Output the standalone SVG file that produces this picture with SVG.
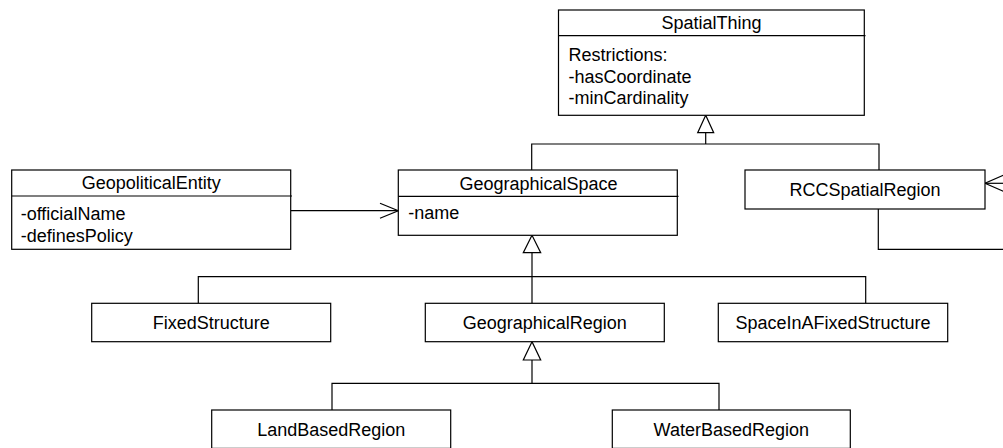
<svg xmlns="http://www.w3.org/2000/svg" width="1003" height="448" viewBox="0 0 1003 448">
<style>
.box{fill:#fff;stroke:#000;stroke-width:1.2}
.ln{fill:none;stroke:#000;stroke-width:1.2}
.tri{fill:#fff;stroke:#000;stroke-width:1.2}
text{font-family:"Liberation Sans",Arial,sans-serif;font-size:18px;fill:#000}
.c{text-anchor:middle}
</style>
<rect width="1003" height="448" fill="#fff"/>
<g id="connectors">
  <polyline class="ln" points="531.7,170 531.7,144 879,144 879,170"/>
  <line class="ln" x1="705.7" y1="132.7" x2="705.7" y2="144"/>
  <polygon class="tri" points="705.7,115.3 697.7,132.7 713.7,132.7"/>
  <polyline class="ln" points="198.3,303.3 198.3,276.7 865.7,276.7 865.7,303.3"/>
  <line class="ln" x1="532" y1="252.7" x2="532" y2="303.3"/>
  <polygon class="tri" points="532,235.3 523.3,252.7 540.7,252.7"/>
  <polyline class="ln" points="332,410 332,383.3 719,383.3 719,410"/>
  <line class="ln" x1="532" y1="360" x2="532" y2="383.3"/>
  <polygon class="tri" points="532,341.7 523.3,360 540.7,360"/>
  <line class="ln" x1="290.7" y1="210.7" x2="398.3" y2="210.7"/>
  <polyline class="ln" points="380,203.2 398.3,210.7 380,218.2"/>
  <polyline class="ln" points="878.3,209 878.3,249.3 1004,249.3"/>
  <line class="ln" x1="985" y1="183.3" x2="1004" y2="183.3"/>
  <polyline class="ln" points="1004,175 985,183.3 1004,191.6"/>
</g>
<g id="SpatialThing">
  <rect class="box" x="558.5" y="10" width="305.8" height="105.3"/>
  <line class="ln" x1="558.5" y1="35.7" x2="865.5" y2="35.7"/>
  <text class="c" x="711.5" y="29">SpatialThing</text>
  <text x="568.5" y="61">Restrictions:</text>
  <text x="568.5" y="82.7">-hasCoordinate</text>
  <text x="568.5" y="104.4">-minCardinality</text>
</g>
<g id="GeopoliticalEntity">
  <rect class="box" x="11.7" y="170" width="279" height="79.3"/>
  <line class="ln" x1="11.7" y1="196" x2="292" y2="196"/>
  <text class="c" x="151.2" y="189.3">GeopoliticalEntity</text>
  <text x="20.7" y="220">-officialName</text>
  <text x="20.7" y="241.7">-definesPolicy</text>
</g>
<g id="GeographicalSpace">
  <rect class="box" x="398.3" y="170" width="279" height="65.3"/>
  <line class="ln" x1="398.3" y1="196.3" x2="678.5" y2="196.3"/>
  <text class="c" x="538.5" y="189.5">GeographicalSpace</text>
  <text x="408.3" y="219.3">-name</text>
</g>
<g id="RCCSpatialRegion">
  <rect class="box" x="745" y="170" width="240" height="39"/>
  <text class="c" x="865" y="195.8">RCCSpatialRegion</text>
</g>
<g id="FixedStructure">
  <rect class="box" x="91.7" y="303.3" width="239" height="38.4"/>
  <text class="c" x="211.2" y="328.8">FixedStructure</text>
</g>
<g id="GeographicalRegion">
  <rect class="box" x="425.3" y="303.3" width="239" height="38.4"/>
  <text class="c" x="544.8" y="328.8">GeographicalRegion</text>
</g>
<g id="SpaceInAFixedStructure">
  <rect class="box" x="718.3" y="303.3" width="229.4" height="38.4"/>
  <text class="c" x="833" y="328.8">SpaceInAFixedStructure</text>
</g>
<g id="LandBasedRegion">
  <rect class="box" x="211.7" y="410" width="239" height="38.4"/>
  <text class="c" x="331.2" y="435.8">LandBasedRegion</text>
</g>
<g id="WaterBasedRegion">
  <rect class="box" x="612.3" y="410" width="238" height="38.4"/>
  <text class="c" x="731.3" y="435.8">WaterBasedRegion</text>
</g>
</svg>
